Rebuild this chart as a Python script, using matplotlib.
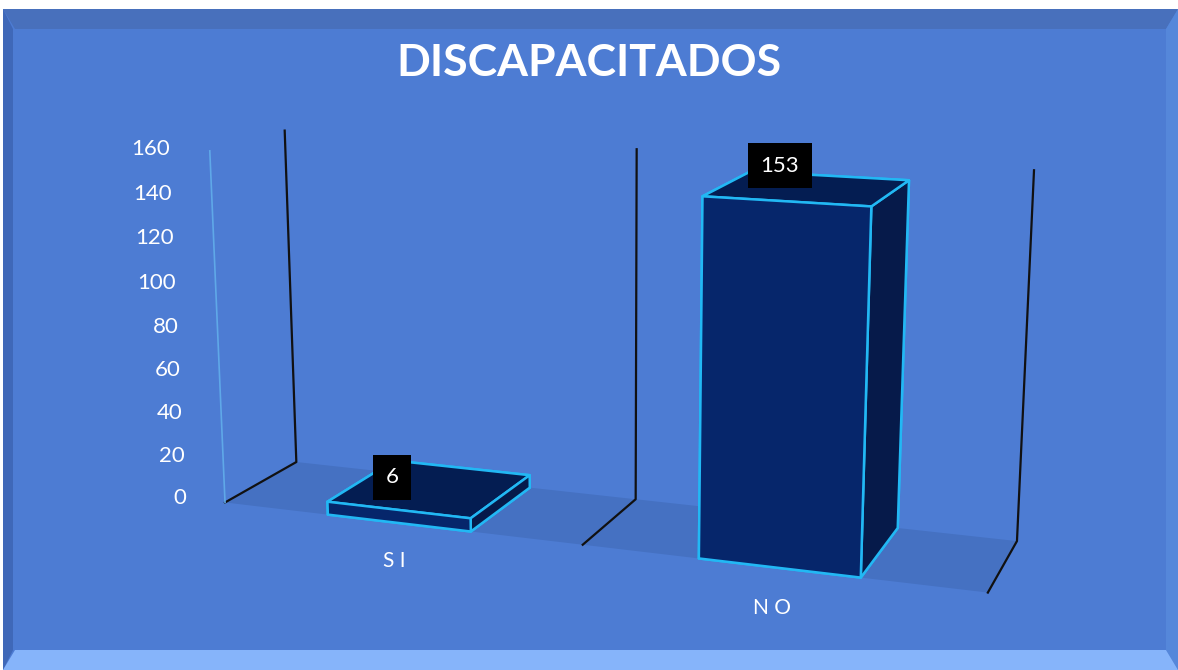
import numpy as np
import matplotlib
matplotlib.use('Agg')
import matplotlib.pyplot as plt
from matplotlib.patches import Polygon
from mpl_toolkits.mplot3d.art3d import Poly3DCollection

categories = ['S I', 'N O']
values = [6, 153]
yticks = [0, 20, 40, 60, 80, 100, 120, 140, 160]
title = 'DISCAPACITADOS'

BG = '#4D7CD3'
FLOOR = '#4571C2'
EDGE = '#22B8F4'
FRONT = '#06266B'
SIDE = '#061A4A'
TOP = '#041D52'

W, H = 1178, 670
fig = plt.figure(figsize=(W / 100, H / 100), dpi=100)
fig.patch.set_facecolor('white')

# background / bevel frame (pixel coordinates)
bg = fig.add_axes([0, 0, 1, 1], zorder=0)
bg.set_xlim(0, W)
bg.set_ylim(H, 0)
bg.axis('off')
L, T, R, B = 3, 9, W, H
bw = 20
bg.add_patch(Polygon([(L, T), (R, T), (R, B), (L, B)], closed=True, facecolor=BG, edgecolor='none'))
bg.add_patch(Polygon([(L, T), (R, T), (R - 12, T + bw), (L + 12, T + bw)], closed=True, facecolor='#4870BC', edgecolor='none'))
bg.add_patch(Polygon([(L, T), (L + 10, T + bw), (L + 10, B - bw), (L, B)], closed=True, facecolor='#3F68B8', edgecolor='none'))
bg.add_patch(Polygon([(R, T), (R - 12, T + bw), (R - 12, B - bw), (R, B)], closed=True, facecolor='#5587DA', edgecolor='none'))
bg.add_patch(Polygon([(L, B), (L + 12, B - bw), (R - 12, B - bw), (R, B)], closed=True, facecolor='#86B4FA', edgecolor='none'))

fig.text(0.5, 1 - 63 / H, title, ha='center', va='center', color='white',
         fontsize=32, fontweight='bold', family='Lato')

ax = fig.add_axes([-0.0975, -0.541, 1.2, 2.0], projection='3d', computed_zorder=False, zorder=1)
ax.set_proj_type('persp', focal_length=0.3)
ax.view_init(elev=13.5, azim=-70)
n = len(categories)
ax.set_xlim(0, n)
ax.set_ylim(0, 1)
ax.set_zlim(0, yticks[-1])
ax.set_box_aspect((2.16, 0.425, 1.0), zoom=0.65)
for axis in (ax.xaxis, ax.yaxis, ax.zaxis):
    axis.set_ticks([])
    axis.label.set_visible(False)
    axis.offsetText.set_visible(False)
ax.set_axis_off()
ax.patch.set_alpha(0)

# floor
floor = Poly3DCollection([[(0, 0, 0), (n, 0, 0), (n, 1, 0), (0, 1, 0)]],
                         facecolor=FLOOR, edgecolor='none', zorder=1)
ax.add_collection3d(floor)

# category gridlines (floor and back wall)
for xb in range(n + 1):
    ax.plot([xb, xb, xb], [0, 1, 1], [0, 0, yticks[-1]], color='#111111', lw=1.6, zorder=2)

# value axis line
ax.plot([0, 0], [0, 0], [0, yticks[-1]], color='#5FA8E8', lw=1.2, zorder=2)
for t in yticks:
    ax.text(-0.115, 0, t, str(t), ha='right', va='center', color='white',
            fontsize=16, family='Lato', zorder=5)

# bars
bw_bar = 0.4
xs = np.arange(n) + (1 - bw_bar) / 2
face_colors = []
for _ in range(n):
    face_colors += ['#031540', TOP, FRONT, FRONT, FRONT, SIDE]
ax.bar3d(xs, np.zeros(n), np.zeros(n), bw_bar, 1.0, values,
         color=face_colors, shade=False, edgecolor=EDGE, linewidth=1.8, zorder=3)

for i, (c, v) in enumerate(zip(categories, values)):
    ax.text(i + 0.485, 0, v + 10, str(v), ha='center', va='bottom', color='white',
            fontsize=16, family='Lato', zorder=6,
            bbox=dict(facecolor='black', edgecolor='none', pad=9))
    ax.text(i + 0.485, 0, -18, c, ha='center', va='center', color='white',
            fontsize=15, family='Lato', zorder=6)

fig.savefig('out.png', dpi=100, facecolor=fig.get_facecolor())
